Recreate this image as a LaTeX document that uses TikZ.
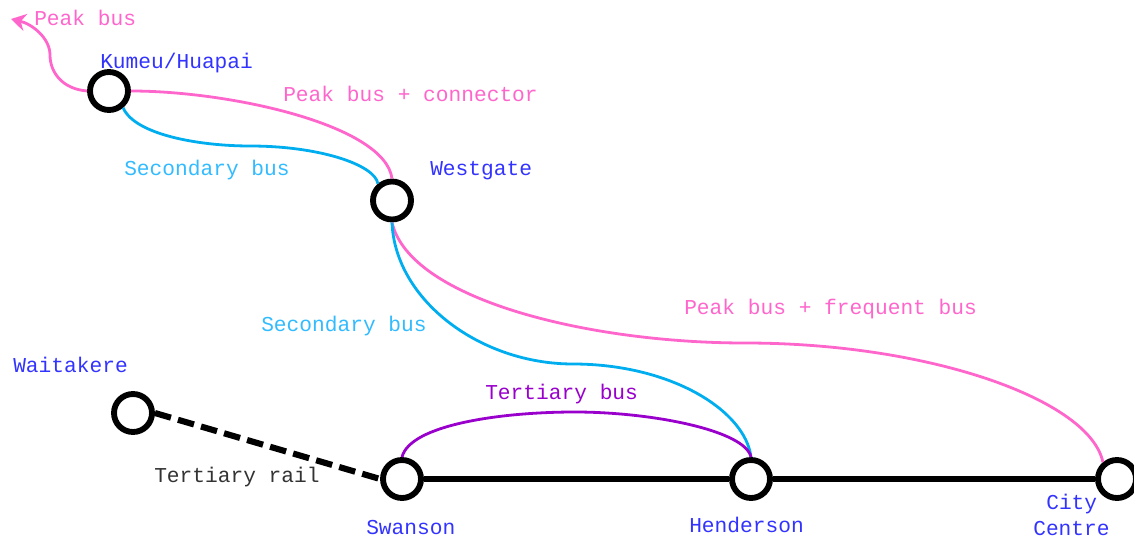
\documentclass[tikz,border=0pt]{standalone}
\usepackage{fontspec}
\setmonofont{Liberation Mono}
\usepackage[dvipsnames]{xcolor}
\usepackage{tikz}
\usetikzlibrary{arrows.meta}
\definecolor{peakpink}{RGB}{255,102,204}
\definecolor{busblue}{RGB}{0,174,239}
\definecolor{labelblue}{RGB}{51,187,255}
\definecolor{stationblue}{RGB}{51,51,255}
\definecolor{tertpurple}{RGB}{153,0,204}
\definecolor{railgrey}{RGB}{51,51,51}
\tikzset{
  station/.style={circle,draw=black,fill=white,line width=4.4pt,minimum size=28.5pt,inner sep=0pt},
  linetext/.style={anchor=base west,inner sep=0pt,font=\ttfamily\fontsize{15.9}{21}\selectfont},
  peakline/.style={draw=peakpink,line width=2.1pt},
  busline/.style={draw=busblue,line width=2.1pt},
  tertline/.style={draw=tertpurple,line width=2.1pt},
  railline/.style={draw=black,line width=4.6pt}
}
\begin{document}
\begin{tikzpicture}[x=0.75pt,y=0.75pt,yscale=-1,xscale=1]
\useasboundingbox (0,0) rectangle (1134,538);

%Stations
\node (kumeu) [station] at (109,91) {};
\node (westgate) [station] at (392,200.5) {};
\node (waitakere) [station] at (133,413) {};
\node (swanson) [station] at (402,479) {};
\node (henderson) [station] at (751,479) {};
\node (city) [station] at (1117,479) {};
\coordinate (peakend) at (11,19);

%Rail lines
\draw [railline] (swanson) -- (henderson);
\draw [railline] (henderson) -- (city);
\draw [railline,dash pattern=on 12.5pt off 5.5pt] (waitakere.east) -- (swanson.west);

%Peak bus lines
\draw [peakline,-{Stealth[length=11pt,width=13pt,inset=3.5pt]}] (kumeu.west) .. controls (62,89) and (50,72) .. (50,55) .. controls (50,38) and (32,24) .. (peakend);
\draw [peakline] (kumeu.east) .. controls (230,91) and (385,125) .. (westgate.north);
\draw [peakline] (westgate.south) .. controls (410,300) and (590,343) .. (745,343) .. controls (930,343) and (1090,400) .. (city.130);

%Secondary bus lines
\draw [busline] (kumeu.-50) .. controls (135,135) and (200,146) .. (250,146) .. controls (320,146) and (375,165) .. (westgate.130);
\draw [busline] (westgate.south) .. controls (395,300) and (480,364) .. (573,364) .. controls (670,364) and (745,410) .. (henderson.north);

%Tertiary bus line
\draw [tertline] (swanson.north) .. controls (410,425) and (500,412) .. (575,412) .. controls (650,412) and (745,430) .. (henderson.north);

% Text Node
\node (lblpeak) [linetext,text=peakpink] at (34,26) {Peak bus};
\node (lblkumeu) [linetext,text=stationblue] at (100,69) {Kumeu/Huapai};
\node (lblconn) [linetext,text=peakpink] at (283,102) {Peak bus + connector};
\node (lblsecA) [linetext,text=labelblue] at (124,176) {Secondary bus};
\node (lblwest) [linetext,text=stationblue] at (430,176) {Westgate};
\node (lblfreq) [linetext,text=peakpink] at (684,314) {Peak bus + frequent bus};
\node (lblsecB) [linetext,text=labelblue] at (261,331) {Secondary bus};
\node (lblwait) [linetext,text=stationblue] at (13,372) {Waitakere};
\node (lblterbus) [linetext,text=tertpurple] at (485,399) {Tertiary bus};
\node (lblterrail) [linetext,text=railgrey] at (154,482) {Tertiary rail};
\node (lblswan) [linetext,text=stationblue] at (366,534) {Swanson};
\node (lblhend) [linetext,text=stationblue] at (689,532) {Henderson};
\node (lblcityA) [linetext,text=stationblue] at (1046,509) {City};
\node (lblcityB) [linetext,text=stationblue] at (1033,535.5) {Centre};
\end{tikzpicture}
\end{document}
